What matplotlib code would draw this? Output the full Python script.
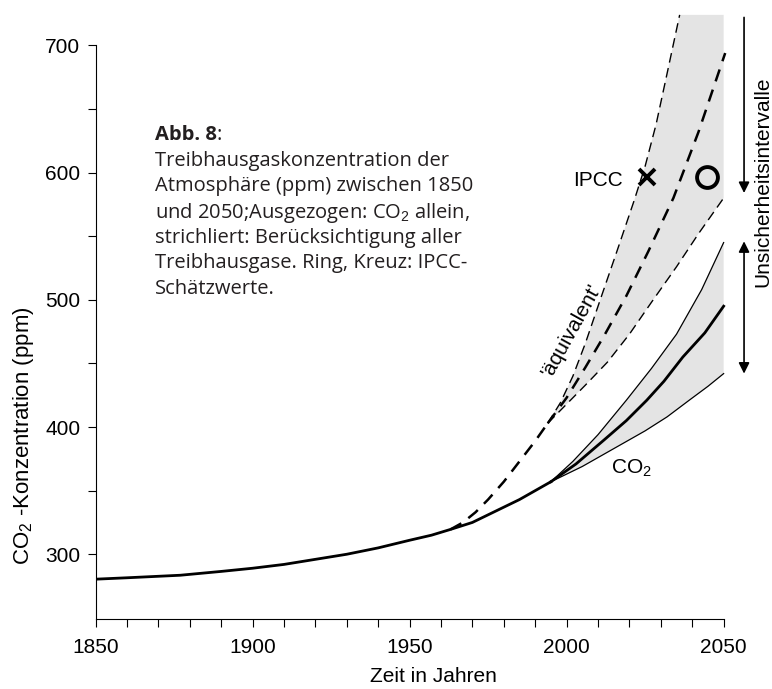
import matplotlib
matplotlib.use("Agg")
import matplotlib.pyplot as plt

plt.rcParams['font.family'] = ['Liberation Sans', 'DejaVu Sans']
plt.rcParams['mathtext.fontset'] = 'custom'
plt.rcParams['mathtext.rm'] = 'Liberation Sans'

# historische CO2-Kurve (ausgezogen)
hist_jahre = [1850, 1860, 1877, 1890, 1900, 1910, 1920, 1930, 1940, 1950,
              1957, 1963, 1970, 1975, 1980, 1985, 1990, 1995]
hist_ppm = [280.4, 281.5, 283.5, 286.5, 289, 292, 296, 300, 305, 311,
            315, 319.5, 325, 331, 337, 343, 350, 357]

# CO2 allein, Szenarien (ausgezogen)
co2_oben_j = [1995, 2002, 2010, 2019, 2027, 2035, 2043, 2050]
co2_oben = [357, 373, 394, 421, 446, 473, 508, 545]
co2_mitte_j = [1995, 2003, 2012, 2019, 2025.5, 2031, 2037, 2044, 2050]
co2_mitte = [357, 371, 390, 405, 421, 436, 455, 474, 495]
co2_unten_j = [1995, 2005, 2015, 2025, 2032, 2039, 2045, 2050]
co2_unten = [357, 369, 383, 397, 408, 421, 432, 442]

# alle Treibhausgase, 'aequivalent' (strichliert)
aeq_jahre = [1963, 1967, 1971, 1975, 1980, 1985, 1990, 1994]
aeq_ppm = [319.5, 325, 333, 343, 357, 373, 389, 403]
aeq_oben_j = [1994, 1998, 2002, 2006, 2010.7, 2016, 2021.5, 2025, 2028.5, 2032, 2036]
aeq_oben = [403, 419, 440, 466, 500, 538, 578, 605, 638, 678, 724]
aeq_mitte_j = [1994, 2000, 2006, 2012, 2019, 2026, 2034, 2042, 2050.5]
aeq_mitte = [403, 423, 447, 472, 503, 538, 580, 632, 694]
aeq_unten_j = [1994, 2000, 2006, 2013, 2020, 2027, 2035, 2042, 2050]
aeq_unten = [403, 418, 433, 451, 473, 498, 526, 552, 580]

# IPCC-Schaetzwerte
kreuz = (2025.5, 596.5)
ring = (2044.6, 596.5)

fig = plt.figure(figsize=(7.72, 6.89), dpi=100)
ax = fig.add_axes([95.5 / 772, 1 - 619 / 689, 1 - 95.5 / 772, 618.5 / 689])
ax.set_xlim(1850, 2065.4)
ax.set_ylim(249.1, 735.3)

grau = '#e4e4e4'
# Schattierung der Unsicherheitsbereiche
ax.fill(aeq_oben_j + [2050] + aeq_unten_j[::-1],
        aeq_oben + [aeq_oben[-1]] + aeq_unten[::-1], color=grau, lw=0, zorder=1)
ax.fill(co2_oben_j + co2_unten_j[::-1], co2_oben + co2_unten[::-1],
        color=grau, lw=0, zorder=1)

ax.plot(hist_jahre, hist_ppm, color='k', lw=2.0, zorder=3)
ax.plot(co2_oben_j, co2_oben, color='k', lw=0.9, zorder=3)
ax.plot(co2_mitte_j, co2_mitte, color='k', lw=2.0, zorder=3)
ax.plot(co2_unten_j, co2_unten, color='k', lw=0.9, zorder=3)

ax.plot(aeq_jahre, aeq_ppm, color='k', lw=1.8, ls=(0, (5, 3.5)), zorder=3)
ax.plot(aeq_oben_j, aeq_oben, color='k', lw=1.0, ls=(0, (7, 4)), zorder=3)
ax.plot(aeq_mitte_j, aeq_mitte, color='k', lw=1.8, ls=(0, (5, 3.5)), zorder=3)
ax.plot(aeq_unten_j, aeq_unten, color='k', lw=1.0, ls=(0, (7, 4)), zorder=3)

ax.plot(*kreuz, marker='x', ms=12, mew=2.8, color='k', zorder=4)
ax.plot(*ring, marker='o', ms=15, mew=2.8, mfc='none', mec='k', zorder=4)

ax.text(2010, 594, 'IPCC', fontsize=15, ha='center', va='center')
ax.text(2020.8, 367.7, 'CO$_2$', fontsize=15, ha='center', va='center')
ax.text(2001.7, 476, "'äquivalent'", fontsize=15, ha='center', va='center', rotation=61)

# Unsicherheitsintervalle
ax.annotate('', xy=(2056.5, 584), xytext=(2056.5, 722),
            arrowprops=dict(arrowstyle='-|>', lw=1.2, color='k', mutation_scale=16,
                            shrinkA=0, shrinkB=0))
ax.annotate('', xy=(2056.5, 442), xytext=(2056.5, 546),
            arrowprops=dict(arrowstyle='<|-|>', lw=1.2, color='k', mutation_scale=16,
                            shrinkA=0, shrinkB=0))
ax.text(2062.6, 593, 'Unsicherheitsintervalle', fontsize=15, rotation=90,
        ha='center', va='center')

# Achsen
for s in ['top', 'right']:
    ax.spines[s].set_visible(False)
ax.spines['left'].set_bounds(249.1, 700)
ax.spines['bottom'].set_bounds(1850, 2050)
ax.set_xticks(range(1850, 2051, 50))
ax.set_xticks(range(1850, 2051, 10), minor=True)
ax.set_yticks(range(300, 701, 100))
ax.set_yticks(range(350, 701, 100), minor=True)
ax.tick_params(which='both', direction='out', length=6, width=0.8, labelsize=15)
ax.tick_params(axis='x', pad=8)
ax.tick_params(axis='y', pad=5)
ax.set_xlabel('Zeit in Jahren', fontsize=15, labelpad=7)
ax.set_ylabel('CO$_2$ -Konzentration (ppm)', fontsize=16)
ax.yaxis.set_label_coords(-0.088, 0.296)

# Bildunterschrift
cap = '#231f20'
fs = 14.5
links = 155 / 772
t = fig.text(links, 1 - 133 / 689, 'Abb. 8', fontsize=fs, fontweight='bold',
             family='Open Sans', color=cap, va='center_baseline')
fig.canvas.draw()
bb = t.get_window_extent()
fig.text(bb.x1 / 772, 1 - 133 / 689, ':', fontsize=fs, family='Open Sans',
         color=cap, va='center_baseline')
zeilen = ['Treibhausgaskonzentration der',
          'Atmosphäre (ppm) zwischen 1850',
          'und 2050;Ausgezogen: CO$_2$ allein,',
          'strichliert: Berücksichtigung aller',
          'Treibhausgase. Ring, Kreuz: IPCC-',
          'Schätzwerte.']
for i, z in enumerate(zeilen):
    fig.text(links, 1 - (158.5 + 25.5 * i) / 689, z, fontsize=fs,
             family='Open Sans', color=cap, va='center_baseline')

fig.savefig('out.png', dpi=100)
